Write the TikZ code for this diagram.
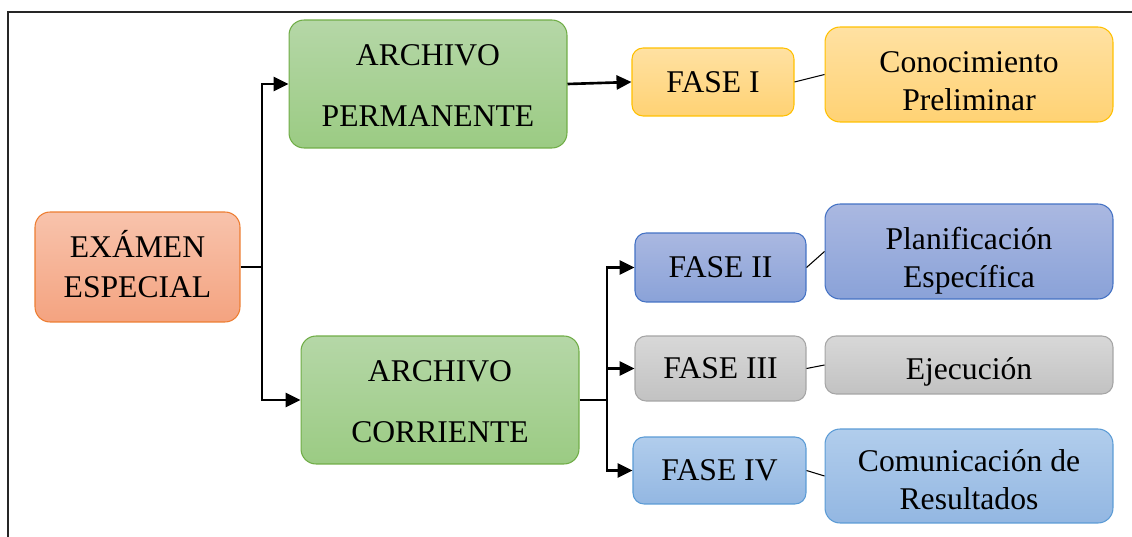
\documentclass[tikz,border=0pt]{standalone}
\usepackage{fontspec}
\setmainfont{Liberation Serif}
\usetikzlibrary{arrows.meta}
\definecolor{naranjaA}{HTML}{F8C3AC}
\definecolor{naranjaB}{HTML}{F4A380}
\definecolor{naranjaC}{HTML}{ED7D31}
\definecolor{verdeA}{HTML}{B5D7A7}
\definecolor{verdeB}{HTML}{9BCB83}
\definecolor{verdeC}{HTML}{70AD47}
\definecolor{amarilloA}{HTML}{FFE1A2}
\definecolor{amarilloB}{HTML}{FFD274}
\definecolor{amarilloC}{HTML}{FFC000}
\definecolor{azulA}{HTML}{AAB8E1}
\definecolor{azulB}{HTML}{8AA2D8}
\definecolor{azulC}{HTML}{4472C4}
\definecolor{grisA}{HTML}{D8D8D8}
\definecolor{grisB}{HTML}{C2C2C2}
\definecolor{grisC}{HTML}{A5A5A5}
\definecolor{celesteA}{HTML}{B1CDEC}
\definecolor{celesteB}{HTML}{93B7E2}
\definecolor{celesteC}{HTML}{5B9BD5}
\newcommand\bajar[2]{\raisebox{-#1}[\height][\depth]{\begin{tabular}{@{}c@{}}#2\end{tabular}}}
\tikzset{
	caja/.style={draw, rounded corners=0.3cm, line width=0.6pt, align=center, inner sep=2pt, font=\fontsize{18}{21.5}\selectfont},
	fase/.style={caja, rounded corners=0.22cm},
	flecha/.style={line width=1.5pt, -{Triangle[length=8.5pt,width=8pt]}},
	enlace/.style={line width=0.6pt},
}

\begin{document}
\begin{tikzpicture}[x=0.02cm, y=-0.02cm]
			%%%%% START %%%%%
			\useasboundingbox (0, 0) rectangle (1132, 537);
			\draw[line width=1.1pt, color=black!85] (8, 537) -- (8, 12) -- (1132, 12);
			
			\node[caja, top color=naranjaA, bottom color=naranjaB, draw=naranjaC, minimum width=4.1cm, minimum height=2.2cm] (exa) at (137.5, 267) {\bajar{1.5pt}{EXÁMEN\\[1pt]ESPECIAL}};
			
			\node[caja, top color=verdeA, bottom color=verdeB, draw=verdeC, minimum width=5.56cm, minimum height=2.56cm] (perm) at (428, 84) {\bajar{2.5pt}{ARCHIVO\\[13pt]PERMANENTE}};
			\node[caja, top color=verdeA, bottom color=verdeB, draw=verdeC, minimum width=5.56cm, minimum height=2.56cm] (corr) at (440, 400) {\bajar{2.5pt}{ARCHIVO\\[13pt]CORRIENTE}};
			
			\node[fase, top color=amarilloA, bottom color=amarilloB, draw=amarilloC, minimum width=3.24cm, minimum height=1.36cm] (f1) at (713, 82) {FASE I};
			\node[caja, top color=amarilloA, bottom color=amarilloB, draw=amarilloC, minimum width=5.76cm, minimum height=1.9cm] (con) at (969, 74.5) {\bajar{5.5pt}{Conocimiento\\Preliminar}};
			
			\node[fase, top color=azulA, bottom color=azulB, draw=azulC, minimum width=3.42cm, minimum height=1.38cm] (f2) at (720.5, 267.5) {FASE II};
			\node[caja, top color=azulA, bottom color=azulB, draw=azulC, minimum width=5.76cm, minimum height=1.9cm] (plan) at (969, 251.5) {\bajar{5.5pt}{Planificación\\Específica}};
			
			\node[fase, top color=grisA, bottom color=grisB, draw=grisC, minimum width=3.42cm, minimum height=1.3cm] (f3) at (720.5, 368.5) {FASE III};
			\node[fase, top color=grisA, bottom color=grisB, draw=grisC, minimum width=5.76cm, minimum height=1.16cm] (eje) at (969, 365) {\bajar{4pt}{Ejecución}};
			
			\node[fase, top color=celesteA, bottom color=celesteB, draw=celesteC, minimum width=3.46cm, minimum height=1.34cm] (f4) at (719.5, 470.5) {FASE IV};
			\node[caja, top color=celesteA, bottom color=celesteB, draw=celesteC, minimum width=5.76cm, minimum height=1.88cm] (com) at (969, 476) {\bajar{4pt}{Comunicación de\\Resultados}};
			
			% ramas
			\coordinate (j1) at (262, 267);
			\coordinate (j2) at (607, 400);
			\draw[line width=1.5pt] (exa.east) -- (j1);
			\draw[flecha] (j1) |- (perm.west);
			\draw[flecha] (j1) |- (corr.west);
			\draw[flecha] (perm.east) -- (f1.west);
			
			\draw[line width=1.5pt] (corr.east) -- (j2);
			\draw[flecha] (j2) |- (f2.west);
			\draw[flecha] (j2) |- (f3.west);
			\draw[flecha] (j2) |- (f4.west);
			
			\draw[enlace] (f1.east) -- (con.west);
			\draw[enlace] (f2.east) -- (plan.west);
			\draw[enlace] (f3.east) -- (eje.west);
			\draw[enlace] (f4.east) -- (com.west);
			%%%%% END %%%%%
\end{tikzpicture}
\end{document}
